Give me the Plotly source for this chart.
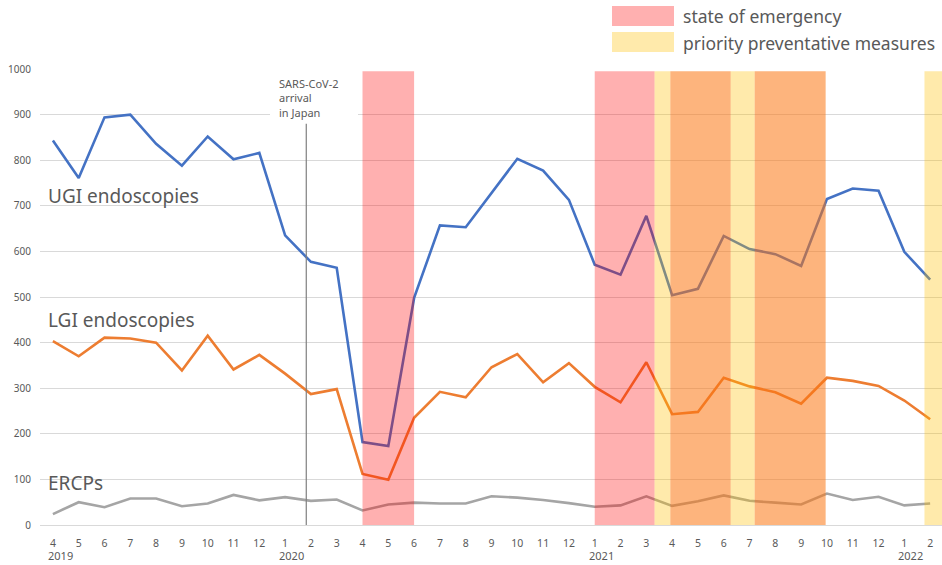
import plotly.graph_objects as go

# ---------------- data ----------------
months = [4, 5, 6, 7, 8, 9, 10, 11, 12, 1, 2, 3,
          4, 5, 6, 7, 8, 9, 10, 11, 12, 1, 2, 3,
          4, 5, 6, 7, 8, 9, 10, 11, 12, 1, 2]
month_labels = [str(m) for m in months]
year_labels = ["2019", "2020", "2021", "2022"]
year_positions = [0.3, 9.25, 21.25, 33.25]

ugi = [843, 761, 894, 900, 836, 788, 852, 802, 816, 635, 577, 564,
       182, 173, 498, 657, 653, 728, 803, 777, 713, 571, 549, 678,
       504, 518, 634, 605, 594, 568, 715, 738, 733, 599, 538]
lgi = [403, 370, 411, 409, 400, 339, 415, 341, 373, 332, 287, 298,
       112, 99, 235, 292, 280, 346, 375, 313, 355, 303, 269, 357,
       243, 248, 323, 304, 291, 266, 323, 316, 305, 273, 232]
ercp = [24, 50, 39, 58, 58, 41, 47, 66, 54, 61, 53, 56,
        32, 45, 49, 47, 47, 63, 60, 55, 48, 40, 43, 63,
        42, 52, 65, 53, 49, 45, 69, 55, 62, 43, 47]

series_names = ["UGI endoscopies", "LGI endoscopies", "ERCPs"]

# period bands (start, end in month-index units, kind)
band_start = [12.0, 21.0, 23.32, 23.93, 26.27, 27.2, 33.78]
band_end = [14.0, 23.32, 23.93, 26.27, 27.2, 29.95, 34.5]
band_kind = ["emergency", "emergency", "priority", "both", "priority", "both", "priority"]

arrival_pos = 9.82
arrival_text = "SARS-CoV-2<br>arrival<br>in Japan"
legend_labels = ["state of emergency", "priority preventative measures"]

# ---------------- style ----------------
colors = ["#4472C4", "#ED7D31", "#A5A5A5"]
band_colors = {
    "emergency": "rgba(255,0,0,0.31)",
    "priority": "rgba(255,192,0,0.33)",
    "both": "rgba(252,118,18,0.55)",
}
text_gray = "#595959"
FONT = "Noto Sans"

W, H = 942, 565
ML, MR, MT, MB = 40, 0, 69, 40
PW, PH = W - ML - MR, H - MT - MB


def px(p):
    return (p - ML) / PW


def py(p):
    return (H - MB - p) / PH


x = list(range(len(months)))

fig = go.Figure()
for name, vals, c in zip(series_names, [ugi, lgi, ercp], colors):
    fig.add_trace(go.Scatter(x=x, y=vals, mode="lines", name=name,
                             line=dict(color=c, width=2.6), showlegend=False))

shapes = []
for s, e, k in zip(band_start, band_end, band_kind):
    shapes.append(dict(type="rect", xref="x", yref="y", x0=s, x1=e, y0=0, y1=995,
                       fillcolor=band_colors[k], line=dict(width=0), layer="above"))

# arrival line
shapes.append(dict(type="line", xref="x", yref="y", x0=arrival_pos, x1=arrival_pos,
                   y0=0, y1=880, line=dict(color="#7F7F7F", width=1.2), layer="above"))
# white box behind arrival text
shapes.append(dict(type="rect", xref="paper", yref="paper", x0=px(270), x1=px(358),
                   y0=py(121), y1=py(76), fillcolor="white", line=dict(width=0),
                   layer="above"))

# legend swatches
shapes.append(dict(type="rect", xref="paper", yref="paper", x0=px(612), x1=px(674),
                   y0=py(26), y1=py(6), fillcolor=band_colors["emergency"],
                   line=dict(width=0)))
shapes.append(dict(type="rect", xref="paper", yref="paper", x0=px(612), x1=px(674),
                   y0=py(52), y1=py(32), fillcolor=band_colors["priority"],
                   line=dict(width=0)))

annotations = []
annotations.append(dict(xref="x", yref="paper", x=8.7, y=py(98), text=arrival_text,
                        showarrow=False, xanchor="left", yanchor="middle", align="left",
                        font=dict(family=FONT, size=11, color=text_gray)))
for lab, yc in zip(legend_labels, [16, 43]):
    annotations.append(dict(xref="paper", yref="paper", x=px(681), y=py(yc), text=lab,
                            showarrow=False, xanchor="left", yanchor="middle",
                            font=dict(family=FONT, size=17.5, color=text_gray)))
for lab, yc in zip(series_names, [196, 320, 483]):
    annotations.append(dict(xref="paper", yref="paper", x=px(46), y=py(yc), text=lab,
                            showarrow=False, xanchor="left", yanchor="middle",
                            font=dict(family=FONT, size=19, color=text_gray)))
for lab, pos in zip(year_labels, year_positions):
    annotations.append(dict(xref="x", yref="paper", x=pos, y=py(555), text=lab,
                            showarrow=False, xanchor="center", yanchor="middle",
                            font=dict(family=FONT, size=11, color=text_gray)))

fig.update_layout(
    width=W, height=H,
    margin=dict(l=ML, r=MR, t=MT, b=MB, pad=0),
    paper_bgcolor="white", plot_bgcolor="white",
    shapes=shapes, annotations=annotations,
    xaxis=dict(range=[-0.5, 34.46], tickmode="array", tickvals=x, ticktext=month_labels,
               showgrid=False, showline=True, linecolor="#D9D9D9", linewidth=1,
               ticks="", ticklabelstandoff=8, zeroline=False,
               tickfont=dict(family=FONT, size=10.5, color=text_gray)),
    yaxis=dict(range=[0, 1000], tickmode="array", tickvals=list(range(0, 1001, 100)),
               showgrid=True, gridcolor="#D9D9D9", gridwidth=1, zeroline=False,
               ticks="", ticklabelstandoff=8,
               tickfont=dict(family=FONT, size=10, color=text_gray)),
)

fig.write_html("out.html", config={"displayModeBar": False},
               post_script="document.body.style.margin='0';document.body.style.overflow='hidden';")
